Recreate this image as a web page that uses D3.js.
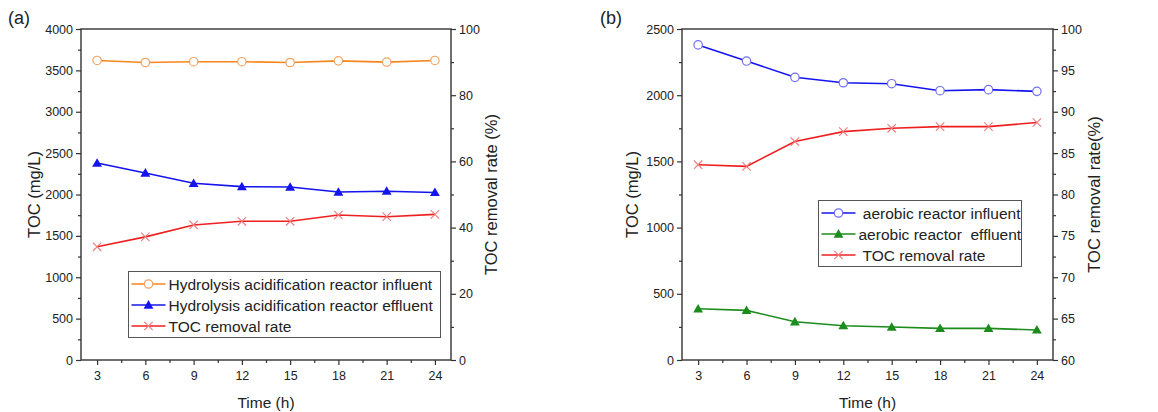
<!DOCTYPE html>
<html>
<head>
<meta charset="utf-8">
<script src="https://cdn.jsdelivr.net/npm/d3@7"></script>
<style>
  body { margin: 0; background: #fff; }
  svg text { font-family: "Liberation Sans", Arial, sans-serif; fill: #222; }
</style>
</head>
<body>
<div id="chart"></div>
<script>
// two panels: (a) hydrolysis acidification reactor, (b) aerobic reactor

const hours = [3, 6, 9, 12, 15, 18, 21, 24];
const timeTicks = [3, 6, 9, 12, 15, 18, 21, 24];

// panel (a)
const haInfluent = [3620, 3595, 3605, 3605, 3595, 3615, 3600, 3620];
const haEffluent = [2380, 2260, 2135, 2095, 2090, 2030, 2040, 2025];
const haRemoval  = [34.2, 37.2, 40.8, 41.9, 41.9, 43.8, 43.3, 44.0];
const haLeftTicks  = [0, 500, 1000, 1500, 2000, 2500, 3000, 3500, 4000];
const haRightTicks = [0, 20, 40, 60, 80, 100];
const haLabels = ['Hydrolysis acidification reactor influent',
                  'Hydrolysis acidification reactor effluent',
                  'TOC removal rate'];

// panel (b)
const aeInfluent = [2380, 2258, 2135, 2094, 2087, 2034, 2042, 2029];
const aeEffluent = [387, 375, 289, 259, 249, 239, 239, 227];
const aeRemoval  = [83.6, 83.4, 86.4, 87.6, 88.0, 88.2, 88.2, 88.7];
const aeLeftTicks  = [0, 500, 1000, 1500, 2000, 2500];
const aeRightTicks = [60, 65, 70, 75, 80, 85, 90, 95, 100];
const aeLabels = [' aerobic reactor influent',
                  'aerobic reactor  effluent',
                  ' TOC removal rate'];

const W = 1158, H = 412;
const svg = d3.select('#chart').append('svg')
    .attr('width', W).attr('height', H)
    .attr('viewBox', `0 0 ${W} ${H}`);

const AXIS = '#333';
const fmt = d3.format('d');

function minorOf(ticks) {
    const out = [];
    for (let i = 0; i < ticks.length - 1; i++) out.push((ticks[i] + ticks[i + 1]) / 2);
    return out;
}

function marker(g, type, x, y, stroke, fill) {
    if (type === 'circle') {
        g.append('circle').attr('cx', x).attr('cy', y).attr('r', 4.2)
            .attr('fill', '#fff').attr('stroke', stroke).attr('stroke-width', 1.2);
    } else if (type === 'triangle') {
        g.append('path')
            .attr('d', d3.symbol(d3.symbolTriangle, 42)())
            .attr('transform', `translate(${x},${y + 0.8})`)
            .attr('fill', fill);
    } else {
        const s = 4.2;
        g.append('path')
            .attr('d', `M${x - s},${y - s}L${x + s},${y + s}M${x - s},${y + s}L${x + s},${y - s}`)
            .attr('stroke', stroke).attr('stroke-width', 1.1).attr('fill', 'none');
    }
}

function drawPanel(cfg) {
    const { x0, x1, y0, y1 } = cfg;
    const xScale = d3.scaleLinear().domain([2, 25]).range([x0, x1]);
    const yL = d3.scaleLinear().domain(cfg.leftDomain).range([y1, y0]);
    const yR = d3.scaleLinear().domain(cfg.rightDomain).range([y1, y0]);

    const g = svg.append('g');

    // series
    cfg.series.forEach(s => {
        const y = s.axis === 'right' ? yR : yL;
        const pts = hours.map((h, i) => [xScale(h), y(s.values[i])]);
        g.append('path').datum(pts)
            .attr('fill', 'none').attr('stroke', s.color).attr('stroke-width', 1.6)
            .attr('d', d3.line());
        const mg = g.append('g');
        pts.forEach(p => marker(mg, s.marker, p[0], p[1], s.markerStroke, s.color));
    });

    // frame
    g.append('rect').attr('x', x0).attr('y', y0)
        .attr('width', x1 - x0).attr('height', y1 - y0)
        .attr('fill', 'none').attr('stroke', AXIS).attr('stroke-width', 1.4);

    const styleAxis = sel => {
        sel.select('.domain').remove();
        sel.selectAll('line').attr('stroke', AXIS).attr('stroke-width', 1.2);
        sel.selectAll('text').attr('font-size', '12.5px').attr('fill', '#222');
    };

    // bottom axis
    g.append('g').attr('transform', `translate(0,${y1})`)
        .call(d3.axisBottom(xScale).tickValues(timeTicks).tickFormat(fmt).tickSize(5).tickPadding(6))
        .call(styleAxis);
    g.append('g').attr('transform', `translate(0,${y1})`)
        .call(d3.axisBottom(xScale).tickValues(minorOf(timeTicks)).tickSize(3).tickFormat(''))
        .call(styleAxis);

    // left axis
    g.append('g').attr('transform', `translate(${x0},0)`)
        .call(d3.axisLeft(yL).tickValues(cfg.leftTicks).tickFormat(fmt).tickSize(5).tickPadding(3))
        .call(styleAxis);
    g.append('g').attr('transform', `translate(${x0},0)`)
        .call(d3.axisLeft(yL).tickValues(minorOf(cfg.leftTicks)).tickSize(3).tickFormat(''))
        .call(styleAxis);

    // right axis
    g.append('g').attr('transform', `translate(${x1},0)`)
        .call(d3.axisRight(yR).tickValues(cfg.rightTicks).tickFormat(fmt).tickSize(5).tickPadding(3))
        .call(styleAxis);
    g.append('g').attr('transform', `translate(${x1},0)`)
        .call(d3.axisRight(yR).tickValues(minorOf(cfg.rightTicks)).tickSize(3).tickFormat(''))
        .call(styleAxis);

    // axis titles
    g.append('text').attr('x', (x0 + x1) / 2).attr('y', 408)
        .attr('text-anchor', 'middle').attr('font-size', '15.5px').text('Time (h)');
    g.append('text')
        .attr('transform', `translate(${cfg.leftTitleX},${(y0 + y1) / 2}) rotate(-90)`)
        .attr('text-anchor', 'middle').attr('font-size', '16.5px').text('TOC (mg/L)');
    g.append('text')
        .attr('transform', `translate(${cfg.rightTitleX},${(y0 + y1) / 2}) rotate(-90)`)
        .attr('text-anchor', 'middle').attr('font-size', '16.5px').text(cfg.rightTitle);

    // panel tag
    g.append('text').attr('x', cfg.tagX).attr('y', 24)
        .attr('font-size', '18px').text(cfg.tag);

    // legend
    const L = cfg.legend;
    g.append('rect').attr('x', L.x).attr('y', L.y).attr('width', L.w).attr('height', L.h)
        .attr('fill', '#fff').attr('stroke', '#555').attr('stroke-width', 1);
    cfg.series.forEach((s, i) => {
        const cy = L.y + 12.5 + i * 21;
        const lg = g.append('g');
        lg.append('line').attr('x1', L.x + 3).attr('x2', L.x + 37)
            .attr('y1', cy).attr('y2', cy)
            .attr('stroke', s.color).attr('stroke-width', 1.6);
        marker(lg, s.marker, L.x + 20, cy, s.markerStroke, s.color);
        lg.append('text').attr('x', L.x + 40).attr('y', cy + 5.5)
            .attr('font-size', '15.5px').style('white-space', 'pre')
            .text(cfg.labels[i]);
    });
}

drawPanel({
    x0: 81, x1: 451, y0: 29, y1: 360,
    leftDomain: [0, 4000], rightDomain: [0, 100],
    leftTicks: haLeftTicks, rightTicks: haRightTicks,
    leftTitleX: 40, rightTitleX: 497, rightTitle: 'TOC removal rate (%)',
    tag: '(a)', tagX: 8,
    labels: haLabels,
    legend: { x: 128.5, y: 271.5, w: 312, h: 66 },
    series: [
        { values: haInfluent, axis: 'left', color: '#f7861e', markerStroke: '#f4a261', marker: 'circle' },
        { values: haEffluent, axis: 'left', color: '#1414ee', markerStroke: '#1414ee', marker: 'triangle' },
        { values: haRemoval, axis: 'right', color: '#ef1f1f', markerStroke: '#f07a7a', marker: 'x' }
    ]
});

drawPanel({
    x0: 682, x1: 1053, y0: 29, y1: 360,
    leftDomain: [0, 2500], rightDomain: [60, 100],
    leftTicks: aeLeftTicks, rightTicks: aeRightTicks,
    leftTitleX: 638, rightTitleX: 1100, rightTitle: 'TOC removal rate(%)',
    tag: '(b)', tagX: 600,
    labels: aeLabels,
    legend: { x: 818.5, y: 200.5, w: 203, h: 66 },
    series: [
        { values: aeInfluent, axis: 'left', color: '#1414ee', markerStroke: '#6f6ff2', marker: 'circle' },
        { values: aeEffluent, axis: 'left', color: '#1c8c1c', markerStroke: '#1c8c1c', marker: 'triangle' },
        { values: aeRemoval, axis: 'right', color: '#ef1f1f', markerStroke: '#f07a7a', marker: 'x' }
    ]
});
</script>
</body>
</html>
